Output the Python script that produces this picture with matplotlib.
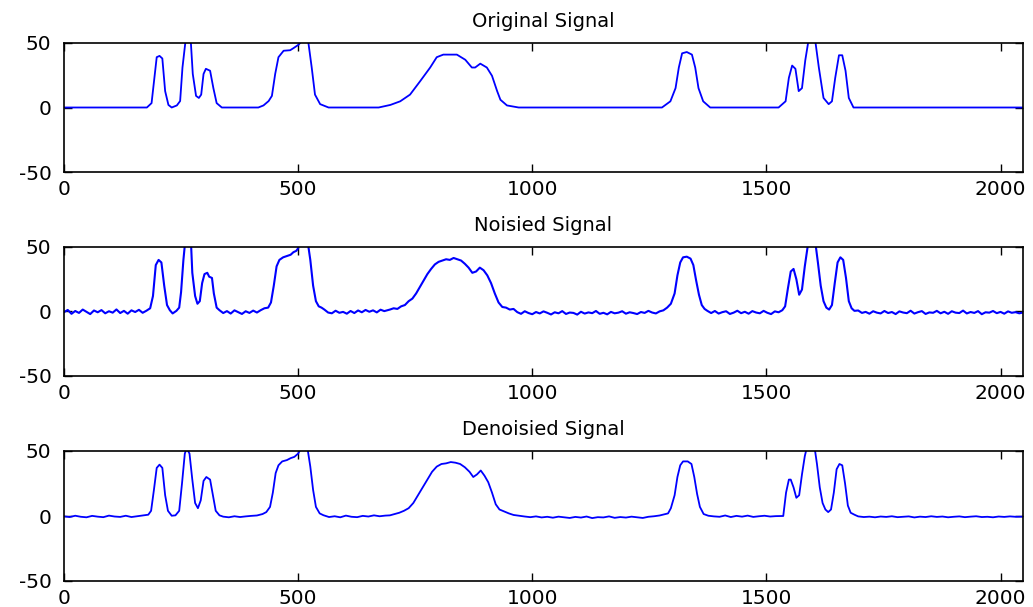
import numpy as np
import matplotlib
matplotlib.use("Agg")
import matplotlib.pyplot as plt

# ---------------- data ----------------
orig_x = [0, 177, 187, 198, 204, 210, 216, 223, 230, 241, 248, 253, 259, 263, 268, 271, 275,
          282, 288, 293, 298, 303, 312, 319, 326, 337, 415, 426, 437, 444, 451, 458, 469,
          483, 490, 501, 504, 512, 522, 529, 536, 547, 565, 672, 697, 718, 739, 761, 782,
          796, 810, 839, 857, 871, 878, 889, 903, 914, 925, 932, 946, 971, 1277, 1295,
          1306, 1313, 1320, 1330, 1341, 1348, 1355, 1365, 1380, 1526, 1541, 1548, 1555,
          1562, 1569, 1576, 1583, 1589, 1597, 1605, 1612, 1622, 1633, 1640, 1647, 1655,
          1662, 1669, 1676, 1686, 2048]
orig_y = [0, 0, 3.4, 39, 40, 38, 12.7, 2, 0, 1.6, 5, 31, 50, 56, 56, 50, 26,
          9, 7.4, 10, 26, 30, 28.5, 15, 3.4, 0, 0, 1.6, 5, 9, 26, 39, 44,
          44.4, 46, 48.7, 50, 56, 50, 31, 10, 2.6, 0, 0, 2, 4.8, 10, 20.6, 31,
          39, 41, 41, 37, 31, 31, 34, 31, 24.6, 12.7, 6, 1.6, 0, 0, 4.8,
          15, 31, 42, 43, 41, 31, 15, 4.8, 0, 0, 4.8, 23, 32.5,
          30, 12.7, 15, 36.5, 50, 56, 50, 31, 7.4, 2.6, 4.8, 23, 40.5,
          40.5, 28.5, 7.4, 0, 0]

noisy_x = (list(range(0, 177, 8))
           + [184, 190, 196, 202, 208, 214, 220, 226, 232, 240, 246, 250, 255, 259, 265, 271,
              274, 280, 285, 290, 295, 300, 306, 310, 316, 320, 326, 332]
           + list(range(340, 421, 8))
           + [428, 436, 442, 448, 454, 460, 468, 476, 484, 490, 496, 500, 504, 512, 520,
              526, 532, 538, 544, 550]
           + list(range(556, 689, 8))
           + [696, 704, 712, 720, 728, 736, 744, 752, 760, 768, 776, 784, 792, 800, 808,
              816, 824, 832, 840, 848, 856, 864, 872, 880, 888, 896, 904, 912, 920, 928,
              936, 944, 952, 960]
           + list(range(968, 1281, 8))
           + [1288, 1296, 1304, 1310, 1316, 1322, 1330, 1338, 1344, 1350, 1356, 1362,
              1368, 1374]
           + list(range(1382, 1527, 8))
           + [1534, 1540, 1546, 1552, 1558, 1564, 1570, 1576, 1582, 1588, 1592, 1598,
              1604, 1610, 1616, 1622, 1628, 1634, 1640, 1646, 1652, 1658, 1664, 1670,
              1676, 1682, 1688]
           + list(range(1696, 2049, 8)))
noisy_y = ([-0.5, 1.2, -1.8, 0.4, -1.1, 1.5, -0.3, -2.0, 0.8, -0.6, 1.1, -1.4, 0.2, -0.9,
            1.6, -1.2, 0.5, -1.7, 0.9, -0.4, 1.3, -1.0, 0.6]
           + [2.5, 12, 36, 40, 38, 20, 5, 1, -1.5, 0.5, 3, 15, 40, 55, 56, 55,
              30, 12, 6, 8, 22, 29, 30, 27, 26, 14, 3, 1]
           + [-1.2, 0.3, -1.6, 0.9, -0.5, -1.9, 0.2, -1.1, 0.7, -0.8, 1.0]
           + [2.5, 3, 7, 20, 35, 40, 42, 43, 44, 46, 47, 49, 55, 56, 55,
              40, 20, 8, 4, 3]
           + [1.5, -0.8, -1.4, 0.6, -1.0, -0.3, -1.7, 0.4, -1.2, 0.8, -0.6, 1.2, -0.2,
              0.9, -0.7, 1.4, 0.3]
           + [1.5, 2.5, 2, 4, 5, 8, 10, 14, 19, 24, 29, 33, 36.5, 38.5, 39.5,
              40.5, 40, 41.5, 40.5, 39.5, 37, 34, 30, 31, 34, 32, 28, 22, 14, 7,
              3.5, 3, 1.5, 2]
           + [-0.5, -1.8, 0.2, -1.2, -2.1, -0.4, -1.5, 0.1, -1.0, -2.3, -0.6, -1.4, 0.3,
              -1.9, -0.8, -1.1, -2.4, -0.2, -1.6, -0.7, -1.3, 0.4, -1.8, -1.0, -2.2, -0.3,
              -1.4, -0.9, 0.2, -1.7, -0.6, -1.2, -2.0, -0.4, -1.1, 0.5, -0.8, -1.5, 0.1, 0.9]
           + [3, 6, 14, 28, 38, 42, 42.5, 41, 36, 24, 13, 5, 2, 0.5]
           + [-1.2, 0.4, -1.6, -0.5, 0.2, -1.9, -0.9, 0.6, -1.3, -0.2, -1.7, 0.3, -0.8,
              -1.4, 0.5, -1.0, -2.0, 0.1, -0.6]
           + [1, 4, 18, 31, 33, 25, 13, 17, 35, 50, 55, 56, 55, 38, 20, 8, 3, 1.5, 5,
              22, 38, 42, 40, 26, 8, 2.5, 0.5]
           + [0.8, -1.1, -0.3, -1.7, 0.2, -0.9, -1.5, 0.4, -1.2, -0.4, -2.0, 0.1, -0.8,
              -1.3, 0.6, -1.6, -0.5, 0.3, -1.9, -0.7, -1.0, 0.5, -1.4, -0.2, -1.8, 0.2,
              -0.9, -1.2, 0.7, -1.5, -0.4, -1.1, 0.3, -2.1, -0.6, -0.9, 0.4, -1.3, -0.3,
              -1.7, 0.1, -1.0, -0.5, -1.4, -0.8])

den_x = (list(range(0, 181, 12))
         + [186, 192, 198, 204, 210, 216, 222, 230, 238, 246, 252, 258, 262, 268, 274,
            280, 286, 292, 298, 304, 312, 318, 324, 332]
         + list(range(340, 413, 12))
         + [424, 432, 440, 446, 452, 458, 466, 476, 484, 492, 500, 506, 514, 520, 526,
            532, 538, 546]
         + list(range(554, 687, 12))
         + [696, 706, 716, 726, 736, 746, 756, 766, 776, 786, 796, 806, 816, 826, 836,
            846, 856, 866, 874, 882, 890, 898, 906, 914, 922, 930, 940, 950]
         + list(range(960, 1285, 12))
         + [1290, 1296, 1304, 1310, 1316, 1322, 1332, 1340, 1346, 1352, 1358, 1366]
         + list(range(1376, 1521, 12))
         + [1536, 1542, 1548, 1552, 1558, 1564, 1570, 1576, 1582, 1588, 1595, 1602,
            1608, 1614, 1620, 1626, 1632, 1638, 1644, 1650, 1656, 1662, 1668, 1674,
            1680, 1688]
         + list(range(1696, 2045, 12)) + [2048])
den_y = ([-0.3, -0.8, 0.2, -0.6, -1.0, 0.1, -0.5, -0.9, 0.3, -0.4, -0.7, 0.2, -0.8, -0.2,
          0.4, 1.0]
         + [4, 20, 37, 39.5, 37, 16, 4, 0.2, 0.5, 4, 25, 48, 52, 48, 28,
            10, 6, 12, 27, 30, 28, 16, 4, 0.5]
         + [-0.5, -1.0, -0.2, -0.8, -0.3, 0.1, 0.4]
         + [1.5, 3, 7, 18, 33, 39, 42, 43, 44.5, 45.5, 48, 52, 53, 52, 38,
            20, 7, 2]
         + [0.6, -0.8, -0.2, -1.0, 0.3, -0.6, -0.9, 0.1, -0.4, 0.5, -0.2, 0.3]
         + [0.5, 1.5, 2.5, 4, 6, 10, 16, 22, 28, 34, 38, 40, 40.5, 41.5, 41,
            40, 37.5, 34, 30, 32, 35, 31, 26, 18, 9, 5, 3.5, 2]
         + [0.8, 0.2, -0.4, -0.9, -0.3, -1.1, -0.6, -1.3, -0.5, -1.0, -1.5, -0.7, -1.2,
            -0.4, -1.6, -0.9, -1.1, -0.3, -1.4, -0.8, -1.2, -0.5, -1.0, -1.5, -0.6, -0.2,
            0.4, 1.5]
         + [2, 6, 16, 30, 39, 42, 42, 40, 30, 17, 7, 1.5]
         + [0.2, -0.3, -0.6, 0.4, -0.8, 0.1, -0.5, 0.3, -0.7, -0.2, 0.2, -0.4, -0.1]
         + [0, 18, 28, 28, 22, 14, 16, 32, 46, 55, 56, 55, 40, 22, 10, 5, 3, 5, 18,
            36, 40, 39, 25, 8, 2.5, 1]
         + [-0.3, -0.8, -0.5, -1.0, -0.4, -0.7, -0.2, -0.9, -0.6, -0.3, -1.1, -0.5, -0.8,
            -0.2, -0.7, -0.4, -1.0, -0.6, -0.3, -0.9, -0.5, -0.2, -0.8, -0.6, -1.0, -0.4,
            -0.7, -0.3, -0.6, -0.5, -0.5])

titles = ["Original Signal", "Noisied Signal", "Denoisied Signal"]
x_ticks = [0, 500, 1000, 1500, 2000]
y_ticks = [-50, 0, 50]

# ---------------- figure ----------------
plt.rcParams['font.family'] = ['DejaVu Sans']
fig = plt.figure(figsize=(10.33, 6.07), dpi=100)

W, H = 1033, 607
ax_left, ax_right = 64, 1023
ax_tops = [43, 247, 451]
ax_bottoms = [172, 376, 581]

series = [(orig_x, orig_y), (noisy_x, noisy_y), (den_x, den_y)]
for i in range(3):
    t, b = ax_tops[i], ax_bottoms[i]
    ax = fig.add_axes([ax_left / W, 1 - b / H, (ax_right - ax_left) / W, (b - t) / H])
    xs, ys = series[i]
    lw = 1.5 if i == 1 else 1.3
    ax.plot(xs, ys, color=(0, 0, 1), lw=lw)
    ax.set_xlim(0, 2048)
    ax.set_ylim(-50, 50)
    ax.set_xticks(x_ticks)
    ax.set_yticks(y_ticks)
    ax.set_yticklabels([str(v) for v in y_ticks])
    ax.tick_params(direction='in', length=6, width=1, top=True, right=True,
                   labelsize=14.5, colors='black')
    ax.tick_params(axis='x', pad=5.5)
    ax.tick_params(axis='y', pad=9)
    for sp in ax.spines.values():
        sp.set_linewidth(1.2)
    ax.set_title(titles[i], fontsize=14, pad=11.5)

fig.savefig("out.png", dpi=100)
